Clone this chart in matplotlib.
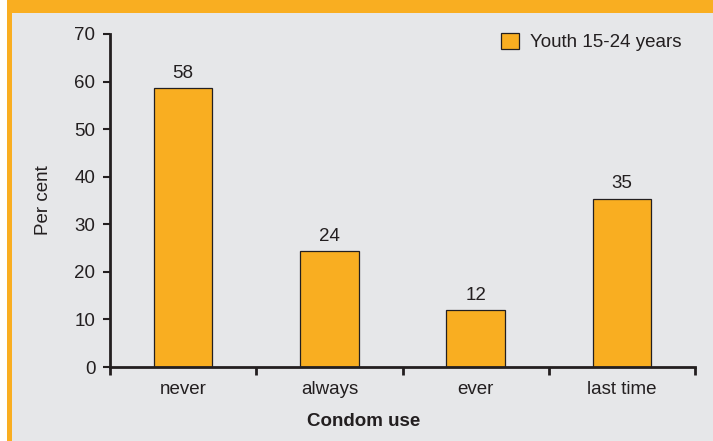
import matplotlib
matplotlib.use("Agg")
import matplotlib.pyplot as plt
from matplotlib.patches import Rectangle

categories = ["never", "always", "ever", "last time"]
values = [58.6, 24.3, 11.9, 35.3]
value_labels = ["58", "24", "12", "35"]
series_name = "Youth 15-24 years"
y_ticks = [0, 10, 20, 30, 40, 50, 60, 70]

plt.rcParams["font.family"] = ["Liberation Sans", "DejaVu Sans"]

BG = "#e6e7e9"
ORANGE = "#f9ae21"
INK = "#231f20"
FS = 13.5

fig = plt.figure(figsize=(7.13, 4.41), dpi=100)
fig.patch.set_facecolor("white")
fig.add_artist(Rectangle((0, 0), 1, 1, transform=fig.transFigure, facecolor=BG, edgecolor="none", zorder=-10))
fig.add_artist(Rectangle((0, 1 - 13/441), 1, 13/441, transform=fig.transFigure, facecolor=ORANGE, edgecolor="none", zorder=-9))
fig.add_artist(Rectangle((0, 0), 7/713, 1, transform=fig.transFigure, facecolor="white", edgecolor="none", zorder=-9))
fig.add_artist(Rectangle((7/713, 0), 5/713, 1, transform=fig.transFigure, facecolor=ORANGE, edgecolor="none", zorder=-9))

ax = fig.add_axes([110/713, 1 - 367/441, (695 - 110)/713, (367 - 34)/441])
ax.set_facecolor(BG)
x = list(range(len(categories)))
ax.bar(x, values, width=0.4, color=ORANGE, edgecolor=INK, linewidth=0.9, label=series_name, zorder=2)
for xi, v, lab in zip(x, values, value_labels):
    ax.text(xi, v + 1.4, lab, ha="center", va="bottom", fontsize=FS, color=INK)

ax.set_xlim(-0.5, len(categories) - 0.5)
ax.set_ylim(0, 70)
ax.set_yticks(y_ticks)
ax.tick_params(axis="y", direction="out", length=5, width=1.5, color=INK, labelsize=FS, labelcolor=INK, pad=5.5)
ax.set_xticks([i - 0.5 for i in range(len(categories) + 1)])
ax.set_xticklabels([])
ax.set_xticks(x, minor=True)
ax.set_xticklabels(categories, minor=True)
ax.tick_params(axis="x", which="major", direction="out", length=6, width=2, color=INK)
ax.tick_params(axis="x", which="minor", length=0, labelsize=FS, labelcolor=INK, pad=10)
for s in ["top", "right"]:
    ax.spines[s].set_visible(False)
for s in ["left", "bottom"]:
    ax.spines[s].set_linewidth(2)
    ax.spines[s].set_color(INK)
    ax.spines[s].set_capstyle("projecting")

ax.set_ylabel("Per cent", fontsize=FS, color=INK)
ax.yaxis.set_label_coords(-66/585, 0.5)
ax.set_xlabel("Condom use", fontsize=FS, color=INK, fontweight="bold")
ax.xaxis.set_label_coords((364 - 110)/585, -(421 - 367)/333)
ax.xaxis.label.set_va("center")
ax.yaxis.label.set_va("center")

leg = fig.legend(loc="center left", bbox_to_anchor=(501/713, 1 - 42/441), frameon=False, fontsize=FS,
                 handlelength=0.95, handleheight=0.95, handletextpad=0.6, labelcolor=INK,
                 borderpad=0, borderaxespad=0)

fig.savefig("out.png", dpi=100, facecolor=fig.get_facecolor())
